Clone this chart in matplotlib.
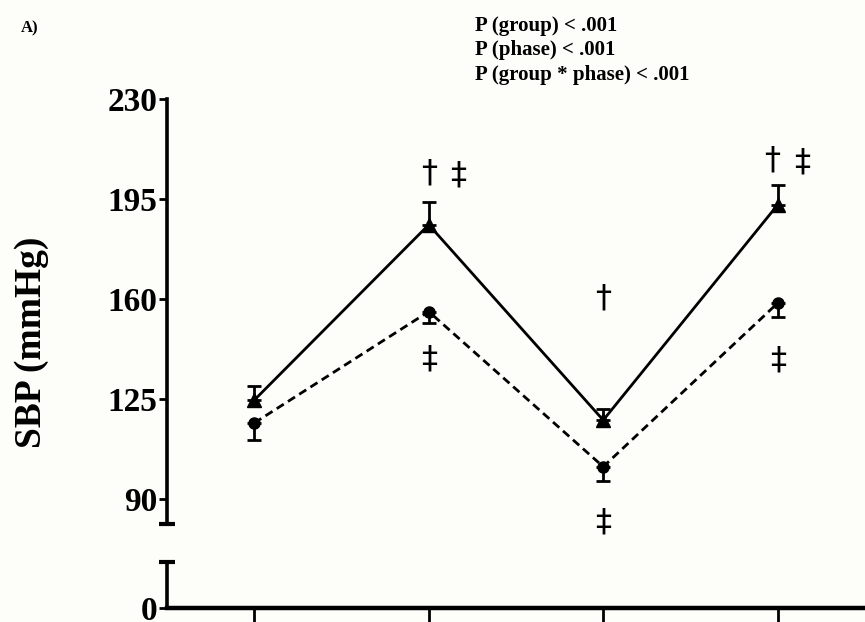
import numpy as np
import matplotlib
matplotlib.use("Agg")
import matplotlib.pyplot as plt

# =====================================================
# DATA
# =====================================================

phases = [1, 2, 3, 4]

# group with triangles, solid line
sbp_tri = [124.6, 186.0, 117.6, 193.0]
sem_tri = [5.0, 8.0, 4.0, 7.0]

# group with circles, dashed line
sbp_circ = [116.6, 155.6, 101.3, 158.6]
sem_circ = [6.0, 4.0, 5.0, 5.0]

y_ticks = [90, 125, 160, 195, 230]
stats_text = ["P (group) < .001", "P (phase) < .001", "P (group * phase) < .001"]

# significance marks: (phase, SBP level, symbol)
marks = [
    (2.0, 204.0, "\u2020"), (2.17, 203.5, "\u2021"), (2.0, 139.0, "\u2021"),
    (3.0, 160.5, "\u2020"), (3.0, 82.0, "\u2021"),
    (3.97, 208.5, "\u2020"), (4.14, 208.0, "\u2021"), (4.0, 138.5, "\u2021"),
]

# =====================================================
# FIGURE
# =====================================================

plt.rcParams['font.family'] = ['Liberation Serif', 'DejaVu Serif']
plt.rcParams['font.weight'] = 'bold'

fig = plt.figure(figsize=(8.65, 6.22), dpi=100)
fig.patch.set_facecolor('#fdfdfa')

W, H = 865.0, 622.0
left = 167 / W
ax_top = fig.add_axes([left, 1 - 524 / H, 1 - left, (524 - 99) / H])
ax_bot = fig.add_axes([left, 1 - 608 / H, 1 - left, (608 - 562) / H])

for ax in (ax_top, ax_bot):
    ax.set_facecolor('none')
    ax.set_xlim(0.5, 4.5)
    ax.spines['top'].set_visible(False)
    ax.spines['right'].set_visible(False)
    ax.spines['left'].set_linewidth(2.6)

ax_top.spines['bottom'].set_visible(False)
ax_top.set_ylim(81.25, 230)
ax_top.set_yticks(y_ticks)
ax_top.set_xticks([])
ax_top.tick_params(axis='y', length=6, width=2, labelsize=24, pad=1)

ax_bot.set_ylim(0, 16)
ax_bot.set_yticks([0])
ax_bot.set_xticks(phases)
ax_bot.set_xticklabels([])
ax_bot.spines['bottom'].set_linewidth(3.2)
ax_bot.tick_params(axis='y', length=6, width=2, labelsize=24, pad=1)
ax_bot.tick_params(axis='x', length=14, width=2)

# end caps of the broken axis
ax_top.plot([0], [0], marker='_', ms=12, mew=3, color='black',
            transform=ax_top.transAxes, clip_on=False)
ax_bot.plot([0], [1], marker='_', ms=12, mew=3, color='black',
            transform=ax_bot.transAxes, clip_on=False)

# series
ax_top.errorbar(phases, sbp_tri, yerr=[np.zeros(4), sem_tri],
                color='black', lw=2.0, marker='^', ms=10,
                capsize=5, capthick=2, elinewidth=2, clip_on=False)
ax_top.errorbar(phases, sbp_circ, yerr=[sem_circ, np.zeros(4)],
                color='black', lw=2.0, ls=(0, (3, 1.8)), marker='o', ms=8,
                capsize=5, capthick=2, elinewidth=2, clip_on=False)

for x, y, s in marks:
    ax_top.text(x, y, s, fontsize=23, ha='center', va='center',
                family='DejaVu Sans', weight='normal', clip_on=False)

fig.text(32 / W, 1 - 342 / H, "SBP (mmHg)", rotation=90, fontsize=27,
         ha='center', va='center')
fig.text(475 / W, 1 - 16 / H, "\n".join(stats_text), fontsize=15,
         ha='left', va='top', linespacing=1.3)
fig.text(30 / W, 1 - 28 / H, "A)", fontsize=12, ha='center', va='center')

plt.savefig("out.png", dpi=100, facecolor=fig.get_facecolor())
